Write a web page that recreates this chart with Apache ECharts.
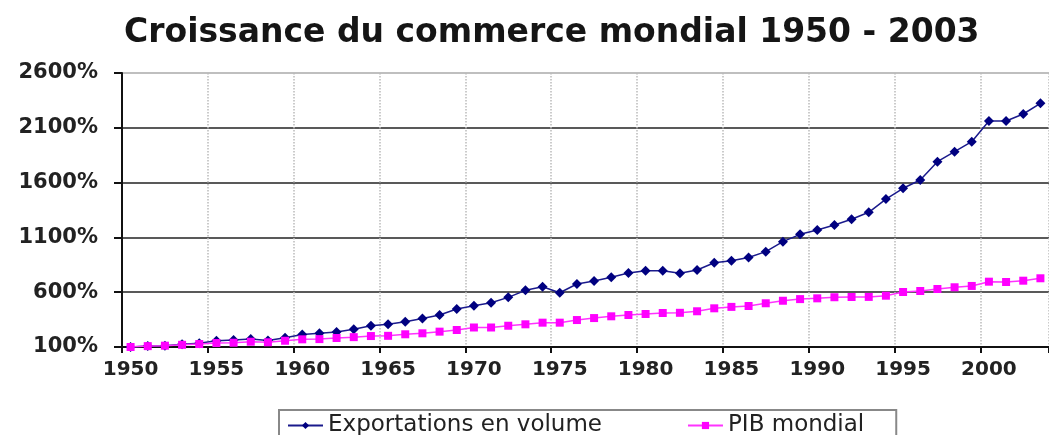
<!DOCTYPE html>
<html>
<head>
<meta charset="utf-8">
<script src="https://cdn.jsdelivr.net/npm/echarts@6/dist/echarts.min.js"></script>
<style>
    html, body { margin: 0; padding: 0; background: #fff; }
    #chart { width: 1049px; height: 435px; }
</style>
</head>
<body>
<div id="chart"></div>
<script>
    // années 1950 - 2003
    const years = ['1950','1951','1952','1953','1954','1955','1956','1957','1958','1959',
        '1960','1961','1962','1963','1964','1965','1966','1967','1968','1969',
        '1970','1971','1972','1973','1974','1975','1976','1977','1978','1979',
        '1980','1981','1982','1983','1984','1985','1986','1987','1988','1989',
        '1990','1991','1992','1993','1994','1995','1996','1997','1998','1999',
        '2000','2001','2002','2003']

    // indice base 100 en 1950
    const exportations = [100, 108, 112, 125, 135, 157, 164, 173, 160, 185,
        214, 225, 237, 261, 294, 307, 331, 360, 392, 447,
        477, 504, 553, 617, 650, 595, 675, 702, 736, 775,
        796, 796, 772, 803, 869, 887, 916, 970, 1061, 1128,
        1167, 1213, 1265, 1329, 1450, 1548, 1624, 1791, 1882, 1973,
        2162, 2162, 2226, 2323]

    const pibMondial = [100, 108, 112, 120, 127, 136, 139, 148, 143, 157,
        170, 172, 182, 190, 200, 202, 216, 225, 240, 255,
        278, 278, 294, 307, 322, 322, 346, 364, 380, 392,
        401, 410, 412, 426, 453, 466, 474, 499, 522, 537,
        544, 554, 556, 557, 568, 602, 611, 629, 645, 657,
        696, 693, 705, 727]

    const yTicks = { min: 100, max: 2600, interval: 500 }

    let chart = echarts.init(document.getElementById('chart'))
    let options = {
        animation: false,
        textStyle: {
            fontFamily: 'DejaVu Sans'
        },
        title: {
            text: 'Croissance du commerce mondial 1950 - 2003',
            left: 119,
            top: 12,
            textStyle: {
                fontSize: 33,
                fontWeight: 'bold',
                color: '#151515'
            }
        },
        legend: {
            left: 279,
            top: 410,
            itemWidth: 35,
            itemHeight: 9,
            itemGap: 85,
            padding: [4, 32, 20, 8],
            borderColor: '#888',
            borderWidth: 2,
            textStyle: {
                fontSize: 23,
                color: '#222'
            },
            data: ['Exportations en volume', 'PIB mondial']
        },
        grid: {
            left: 122,
            top: 73,
            width: 934,
            height: 274
        },
        xAxis: {
            type: 'category',
            boundaryGap: true,
            data: years,
            axisLine: {
                lineStyle: { color: '#111', width: 2 }
            },
            axisTick: {
                show: true,
                interval: 4,
                length: 6,
                lineStyle: { color: '#111', width: 2 }
            },
            axisLabel: {
                interval: 4,
                margin: 13,
                fontSize: 20,
                fontWeight: 'bold',
                color: '#222'
            },
            splitLine: {
                show: true,
                interval: 4,
                lineStyle: { color: '#bbb', type: 'dotted', width: 1.5 }
            }
        },
        yAxis: {
            type: 'value',
            min: yTicks.min,
            max: yTicks.max,
            interval: yTicks.interval,
            axisLine: {
                show: true,
                lineStyle: { color: '#111', width: 2 }
            },
            axisTick: {
                show: true,
                length: 8,
                lineStyle: { color: '#111', width: 2 }
            },
            axisLabel: {
                margin: 24,
                fontSize: 21,
                fontWeight: 'bold',
                color: '#222',
                formatter: (value) => {
                    return value + '%'
                }
            },
            splitLine: {
                show: true,
                lineStyle: {
                    color: ['#111', '#222', '#222', '#222', '#222', '#aaa'],
                    width: 1.6
                }
            }
        },
        series: [
            {
                name: 'Exportations en volume',
                type: 'line',
                data: exportations,
                symbol: 'diamond',
                symbolSize: 10,
                itemStyle: { color: '#000080' },
                lineStyle: { color: '#1a1a8c', width: 1.5 },
                z: 3
            },
            {
                name: 'PIB mondial',
                type: 'line',
                data: pibMondial,
                symbol: 'rect',
                symbolSize: 8,
                itemStyle: { color: '#ff00ff' },
                lineStyle: { color: '#ff33ff', width: 1.5 },
                z: 4
            }
        ]
    }
    chart.setOption(options)
</script>
</body>
</html>
